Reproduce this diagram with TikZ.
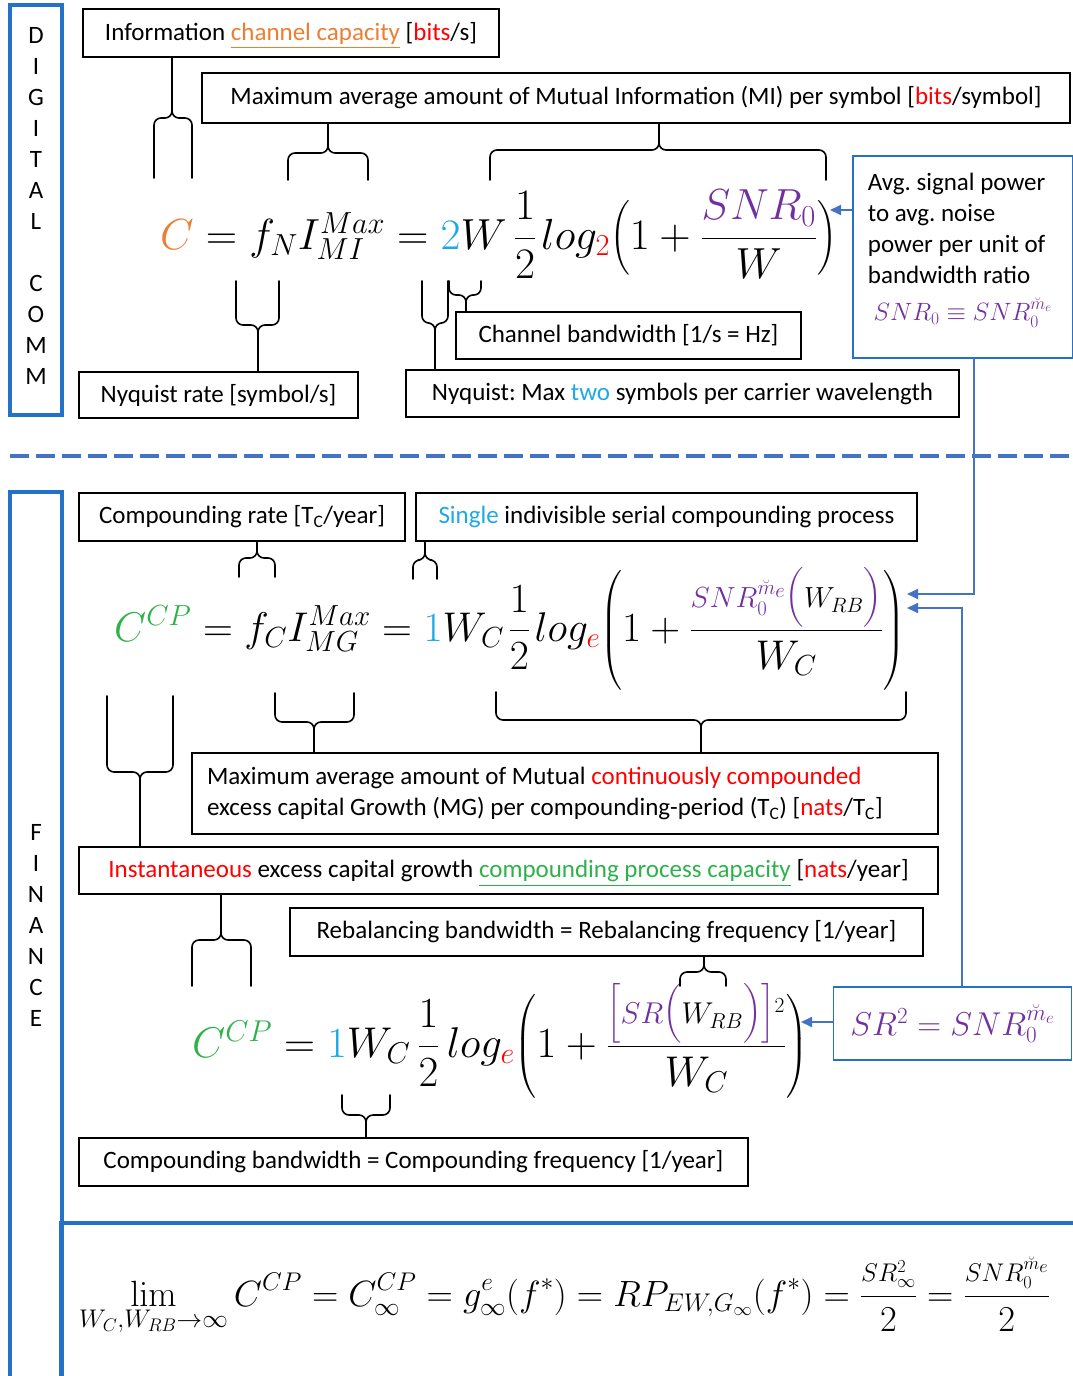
\RequirePackage{fix-cm}
\documentclass[tikz,border=0pt]{standalone}
\usepackage[no-math]{fontspec}
\setmainfont{Carlito}
\usepackage{amsmath}
\usepackage{xcolor}
\usetikzlibrary{arrows.meta}
\frenchspacing

\definecolor{corange}{HTML}{ED7D31}
\definecolor{cred}{HTML}{FF0000}
\definecolor{cblue}{HTML}{1CA9E6}
\definecolor{cgreen}{HTML}{2DB24A}
\definecolor{cpurple}{HTML}{7030A0}
\definecolor{frameblue}{HTML}{2472C8}
\definecolor{linkblue}{HTML}{4472C4}

\begin{document}
\begin{tikzpicture}[x=1pt, y=-1pt, line cap=round,
  every node/.style={font=\fontsize{25}{31}\selectfont},
  box/.style={draw, line width=1.8pt, inner sep=0pt, align=center},
  brace/.style={line width=1.6pt, rounded corners=7pt},
  link/.style={linkblue, line width=1.8pt, -{Triangle[length=11pt,width=10pt]}},
  eq/.style={anchor=base west, inner sep=0pt, font=\fontsize{44}{50}\selectfont}]
  \useasboundingbox (0,0) rectangle (1073,1376);
  % side panels and separators
  \node[box, draw=frameblue, line width=3.5pt, minimum width=52pt, minimum height=410pt] (digital) at (36,210) {D\\I\\G\\I\\T\\A\\L\\[31pt]C\\O\\M\\M\\[-23pt]\mbox{}};
  \node[box, draw=frameblue, line width=3.5pt, minimum width=52pt, minimum height=900pt] (finance) at (36,942) {F\\I\\N\\A\\N\\C\\E\\[3pt]\mbox{}};
  \draw[frameblue, line width=3.5pt] (61,1223) rectangle (1100,1420);
  \draw[linkblue, line width=4.5pt, line cap=butt, dash pattern=on 19pt off 7pt] (10,456) -- (1073,456);
  % digital communication labels
  \node[box, minimum width=416pt, minimum height=48pt] (info) at (291,33) {Information \textcolor{corange}{\smash{\underline{channel capacity}}} [\textcolor{cred}{bits}/s]};
  \node[box, minimum width=868pt, minimum height=50pt] (mibox) at (636,98) {Maximum average amount of Mutual Information (MI) per symbol [\textcolor{cred}{bits}/symbol]};
  \node[box, draw=frameblue, anchor=north west, minimum width=220pt, minimum height=202pt, text width=190pt, align=flush left] (snrbox) at (852,155) {Avg. signal power\\to avg. noise\\power per unit of\\bandwidth ratio\\[6pt]\makebox[190pt][c]{\textcolor{cpurple}{\fontsize{25}{31}\selectfont$SNR_0\equiv SNR_0^{\breve{m}_e}$}}\\[-11pt]\mbox{}};
  \node[box, minimum width=345pt, minimum height=47pt] (chanbox) at (628.5,335.5) {Channel bandwidth [1/s = Hz]};
  \node[box, minimum width=279pt, minimum height=46pt] (nyqrate) at (218.5,395) {Nyquist rate [symbol/s]};
  \node[box, minimum width=553pt, minimum height=47pt] (nyqmax) at (682.5,393.5) {Nyquist: Max \textcolor{cblue}{two} symbols per carrier wavelength};
  % finance labels
  \node[box, minimum width=326pt, minimum height=48pt] (crate) at (242,517) {Compounding rate [T\textsubscript{C}/year]};
  \node[box, minimum width=501pt, minimum height=48pt] (single) at (666.5,517) {\textcolor{cblue}{Single} indivisible serial compounding process};
  \node[box, minimum width=746pt, minimum height=81pt, text width=716pt, align=flush left] (mgbox) at (565,793.5) {Maximum average amount of Mutual \textcolor{cred}{continuously compounded}\\excess capital Growth (MG) per compounding-period (T\textsubscript{C}) [\textcolor{cred}{nats}/T\textsubscript{C}]};
  \node[box, minimum width=859pt, minimum height=47pt] (instbox) at (508.5,870.5) {\textcolor{cred}{Instantaneous} excess capital growth \textcolor{cgreen}{\smash{\underline{compounding process capacity}}} [\textcolor{cred}{nats}/year]};
  \node[box, minimum width=633pt, minimum height=48pt] (rebal) at (606.5,932) {Rebalancing bandwidth = Rebalancing frequency [1/year]};
  \node[box, minimum width=669pt, minimum height=48pt] (cbw) at (413.5,1162) {Compounding bandwidth = Compounding frequency [1/year]};
  \node[box, draw=frameblue, minimum width=238pt, minimum height=73pt] (srbox) at (952.5,1023.5) {\textcolor{cpurple}{\fontsize{33}{40}\selectfont$SR^2 = SNR_0^{\breve{m}_e}$}};
  % formulas
  \node[eq, font=\fontsize{43.5}{50}\selectfont] (capDC) at (160,249) {$\textcolor{corange}{C} = f_N I^{Max}_{MI} = \textcolor{cblue}{2}W\, \dfrac{1}{2}\mkern2mu log_{\textcolor{cred}{2}} \Bigl(1 + \dfrac{\textcolor{cpurple}{SNR_0}}{W}\Bigr)$};
  \node[eq, font=\fontsize{41.5}{48}\selectfont] (capCP) at (114,641) {$\textcolor{cgreen}{C^{CP}} = f_C I^{Max}_{MG} = \textcolor{cblue}{1}W_C\mkern2mu \dfrac{1}{2}\mkern2mu log_{\textcolor{cred}{e}} \Biggl(1 + \dfrac{\scriptstyle\textcolor{cpurple}{SNR_0^{\breve{m}_e}\bigl(}W_{RB}\textcolor{cpurple}{\bigr)}}{W_C}\Biggr)$};
  \node[eq, font=\fontsize{43}{50}\selectfont] (capSR) at (192,1057) {$\textcolor{cgreen}{C^{CP}} = \textcolor{cblue}{1}W_C\mkern3mu \dfrac{1}{2}\mkern3mu log_{\textcolor{cred}{e}} \biggl(1 + \dfrac{\scriptstyle\textcolor{cpurple}{\bigl[SR\bigl(}W_{RB}\textcolor{cpurple}{\bigr)\bigr]}^2}{W_C}\biggr)$};
  \node[eq, font=\fontsize{36.5}{42}\selectfont] (limit) at (79,1306) {$\displaystyle\lim_{W_C,W_{RB}\to\infty} C^{CP} = C^{CP}_\infty = g^e_\infty(f^*) = RP_{EW,G_\infty}(f^*) = \frac{\scriptstyle SR^2_\infty}{2} = \frac{\scriptstyle SNR_0^{\breve{m}_e}}{2}$};
  % braces from formula parts to their labels
  \foreach \xa/\xb/\ya/\ys/\xt/\dest in {154/192/178/118/172/info.south, 288/368/180/153/328/mibox.south,
      490/826/180/150/659/mibox.south, 236/279/281/325/258/nyqrate.north, 422/448/281/323/435/nyqmax.north,
      449/481/281/295/466/chanbox.north, 239/275/577/558/257/crate.south, 413/437/579/560/425/single.south,
      107/173/696/772/140/instbox.north, 275/354/693/722/314/mgbox.north, 496/906/692/720/701/mgbox.north,
      192/251/986/940/221/instbox.south, 680/726/986/972/704/rebal.south, 342/390/1095/1115/366/cbw.north}{
    \draw[brace] (\xa,\ya) -- (\xa,\ys) -- (\xt,\ys) -- (\xt,0 |- \dest)
                 (\xb,\ya) -- (\xb,\ys) -- (\xt,\ys) -- (\xt,0 |- \dest);
  }
  % SNR links
  \coordinate (snrtip) at (830,210);
  \coordinate (ccptipA) at (907,594);
  \coordinate (ccptipB) at (907,608);
  \coordinate (srtip) at (801,1022);
  \draw[link] (snrtip -| snrbox.west) -- (snrtip);
  \draw[link] ([xshift=11pt]snrbox.south) |- (ccptipA);
  \draw[link] ([xshift=9.5pt]srbox.north) |- (ccptipB);
  \draw[link] (srtip -| srbox.west) -- (srtip);
\end{tikzpicture}
\end{document}
